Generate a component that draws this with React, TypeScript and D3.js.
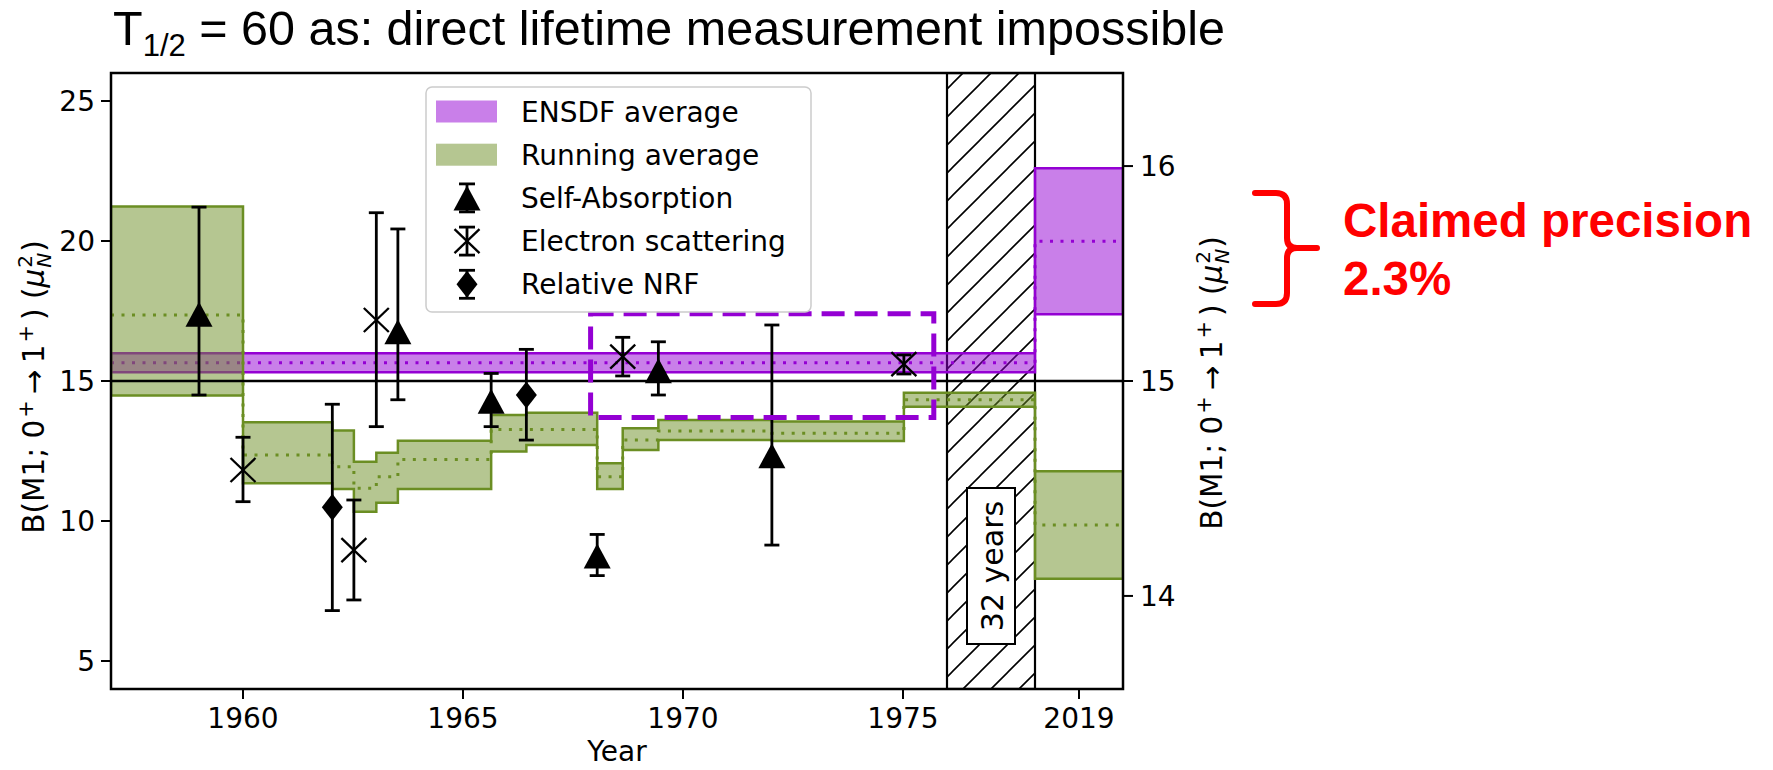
import React from "react";
import * as d3 from "d3";

// Running average of B(M1) — one step per new measurement (lower / central / upper)
const runningYears = [1957, 1960, 1962.03, 1962.52, 1963.03, 1963.52, 1965.64, 1966.44, 1968.05, 1968.63, 1969.44, 1972.02, 1975.02];
const runningLow = [14.48, 11.35, 11.14, 10.33, 10.65, 11.14, 12.48, 12.71, 11.14, 12.54, 12.89, 12.86, 14.08];
const runningMid = [17.36, 12.36, 11.94, 11.17, 11.58, 12.2, 13.27, 13.27, 11.58, 12.89, 13.21, 13.13, 14.33];
const runningHigh = [21.23, 13.53, 13.23, 12.12, 12.44, 12.87, 13.79, 13.87, 12.06, 13.31, 13.61, 13.55, 14.58];

// ENSDF evaluated average
const ensdfMean = 15.65;
const ensdfError = 0.34;

// Self-absorption measurements
const saYears = [1959.0, 1963.52, 1965.64, 1968.05, 1969.44, 1972.02];
const saValues = [17.38, 16.76, 14.28, 8.75, 15.37, 12.33];
const saLow = [14.5, 14.33, 13.37, 8.05, 14.5, 9.14];
const saHigh = [21.21, 20.43, 15.27, 9.52, 16.4, 17.0];

// Electron scattering measurements
const esYears = [1960.0, 1962.52, 1963.03, 1968.63, 1975.02];
const esValues = [11.82, 8.96, 17.18, 15.87, 15.6];
const esLow = [10.69, 7.18, 13.37, 15.18, 15.25];
const esHigh = [12.99, 10.75, 21.01, 16.56, 15.93];

// Relative NRF measurements
const nrfYears = [1962.03, 1966.44];
const nrfValues = [10.49, 14.5];
const nrfLow = [6.8, 12.89];
const nrfHigh = [14.17, 16.13];

// Axes
const yearDomain = [1957, 1980];
const leftDomain = [4, 26];
const rightDomain = [13.567, 16.433];
const yearTicks = [1960, 1965, 1970, 1975];
const leftTicks = [5, 10, 15, 20, 25];
const rightTicks = [14, 15, 16];
const gapYears = [1976, 1978];
const recentSlot = [1978, 1980];
const recentLabel = "2019";
const gapLabel = "32 years";
const referenceLevel = 15;
const highlightYears = [1967.9, 1975.7];
const highlightValues = [13.7, 17.4];

const legendLabels = ["ENSDF average", "Running average", "Self-Absorption", "Electron scattering", "Relative NRF"];

const PURPLE = "#9400d3";
const GREEN = "#6b8e23";
const RED = "#ff0000";
const MPL_FONT = "'DejaVu Sans', sans-serif";
const SLIDE_FONT = "'Liberation Sans', Arial, sans-serif";

const W = 1773;
const H = 770;
const frame = { left: 111, right: 1123, top: 73, bottom: 689 };

type Step = { x: number; lo: number; mid: number; hi: number };

const x = d3.scaleLinear().domain(yearDomain).range([frame.left, frame.right]);
const yL = d3.scaleLinear().domain(leftDomain).range([frame.bottom, frame.top]);
const yR = d3.scaleLinear().domain(rightDomain).range([frame.bottom, frame.top]);

const bandArea = d3
  .area<Step>()
  .x((d) => x(d.x))
  .y0((d) => d.lo)
  .y1((d) => d.hi)
  .curve(d3.curveStepAfter);
const midLine = d3
  .line<Step>()
  .x((d) => x(d.x))
  .y((d) => d.mid)
  .curve(d3.curveStepAfter);

// ENSDF band: main panel on the left scale, recent panel on the magnified right scale
const ensdfSteps: Step[] = [
  { x: yearDomain[0], lo: yL(ensdfMean - ensdfError), mid: yL(ensdfMean), hi: yL(ensdfMean + ensdfError) },
  { x: recentSlot[0], lo: yR(ensdfMean - ensdfError), mid: yR(ensdfMean), hi: yR(ensdfMean + ensdfError) },
  { x: recentSlot[1], lo: yR(ensdfMean - ensdfError), mid: yR(ensdfMean), hi: yR(ensdfMean + ensdfError) },
];

const lastIdx = runningYears.length - 1;
const runningSteps: Step[] = runningYears.map((yr, i) => ({
  x: yr,
  lo: yL(runningLow[i]),
  mid: yL(runningMid[i]),
  hi: yL(runningHigh[i]),
}));
runningSteps.push(
  { x: recentSlot[0], lo: yR(runningLow[lastIdx]), mid: yR(runningMid[lastIdx]), hi: yR(runningHigh[lastIdx]) },
  { x: recentSlot[1], lo: yR(runningLow[lastIdx]), mid: yR(runningMid[lastIdx]), hi: yR(runningHigh[lastIdx]) }
);

const triangle = "M0,-12.5 L13.5,12.5 L-13.5,12.5 Z";
const diamond = "M0,-13.5 L10.5,0 L0,13.5 L-10.5,0 Z";

function Marker({ kind, cx, cy }: { kind: string; cx: number; cy: number }) {
  if (kind === "tri") return <path d={triangle} transform={`translate(${cx},${cy})`} fill="#000" />;
  if (kind === "dia") return <path d={diamond} transform={`translate(${cx},${cy})`} fill="#000" />;
  return (
    <g transform={`translate(${cx},${cy})`} stroke="#000" strokeWidth={2.3}>
      <line x1={-12.5} y1={-12} x2={12.5} y2={12} />
      <line x1={-12.5} y1={12} x2={12.5} y2={-12} />
    </g>
  );
}

function ErrorBar({ cx, top, bottom, cap = 7.5 }: { cx: number; top: number; bottom: number; cap?: number }) {
  return (
    <g stroke="#000" strokeWidth={2.8}>
      <line x1={cx} x2={cx} y1={top} y2={bottom} />
      <line x1={cx - cap} x2={cx + cap} y1={top} y2={top} />
      <line x1={cx - cap} x2={cx + cap} y1={bottom} y2={bottom} />
    </g>
  );
}

function Series({ years, values, low, high, kind }: { years: number[]; values: number[]; low: number[]; high: number[]; kind: string }) {
  return (
    <g>
      {years.map((yr, i) => (
        <g key={i}>
          <ErrorBar cx={x(yr)} top={yL(high[i])} bottom={yL(low[i])} />
          <Marker kind={kind} cx={x(yr)} cy={yL(values[i])} />
        </g>
      ))}
    </g>
  );
}

function AxisLabel({ tx, ty }: { tx: number; ty: number }) {
  return (
    <text transform={`translate(${tx},${ty}) rotate(-90)`} textAnchor="middle" fontFamily={MPL_FONT} fontSize={29.5} fill="#000">
      B(M1; 0
      <tspan fontSize={21} dx={2} dy={-11}>+</tspan>
      <tspan dy={11} dx={6}>→</tspan>
      <tspan dx={6}>1</tspan>
      <tspan fontSize={21} dx={2} dy={-11}>+</tspan>
      <tspan dy={11} dx={5}>) (</tspan>
      <tspan fontStyle="italic">μ</tspan>
      <tspan fontSize={20} dx={1} dy={-12}>2</tspan>
      <tspan fontSize={20} fontStyle="italic" dx={-12.7} dy={19}>N</tspan>
      <tspan dy={-7} dx={1}>)</tspan>
    </text>
  );
}

export default function App() {
  const gapX0 = x(gapYears[0]);
  const gapX1 = x(gapYears[1]);
  const gapMid = (gapX0 + gapX1) / 2;
  const recentMid = x((recentSlot[0] + recentSlot[1]) / 2);

  const legend = { x: 426, y: 87, w: 385, h: 225, row0: 111.5, rowStep: 43.2, iconX: 467, textX: 521 };

  return (
    <div style={{ position: "absolute", left: 0, top: 0 }}>
      <svg width={W} height={H} viewBox={`0 0 ${W} ${H}`} style={{ display: "block", background: "#fff" }}>
        <defs>
          <pattern id="hatch" patternUnits="userSpaceOnUse" width={28} height={28}>
            <path d="M-7,7 L7,-7 M0,28 L28,0 M21,35 L35,21" stroke="#000" strokeWidth={1.6} />
          </pattern>
          <clipPath id="plotClip">
            <rect x={frame.left} y={frame.top} width={frame.right - frame.left} height={frame.bottom - frame.top} />
          </clipPath>
        </defs>

        {/* Title */}
        <text x={113} y={45} fontFamily={SLIDE_FONT} fontSize={48.5} fill="#000">
          T<tspan fontSize={31} dy={11}>1/2</tspan>
          <tspan dy={-11}> = 60 as: direct lifetime measurement impossible</tspan>
        </text>

        <g clipPath="url(#plotClip)">
          {/* Hatched period without measurements */}
          <rect x={gapX0} y={frame.top} width={gapX1 - gapX0} height={frame.bottom - frame.top} fill="url(#hatch)" stroke="#000" strokeWidth={2.2} />

          {/* ENSDF average band */}
          <path d={bandArea(ensdfSteps) ?? ""} fill={PURPLE} fillOpacity={0.5} stroke={PURPLE} strokeWidth={2.5} />
          <path d={midLine(ensdfSteps) ?? ""} fill="none" stroke={PURPLE} strokeWidth={3} strokeDasharray="3 7.5" />

          {/* Running average band */}
          <path d={bandArea(runningSteps) ?? ""} fill={GREEN} fillOpacity={0.5} stroke={GREEN} strokeWidth={2.5} />
          <path d={midLine(runningSteps) ?? ""} fill="none" stroke={GREEN} strokeWidth={3} strokeDasharray="3 7.5" />

          {/* Reference level */}
          <line x1={x(yearDomain[0])} x2={x(yearDomain[1])} y1={yL(referenceLevel)} y2={yL(referenceLevel)} stroke="#000" strokeWidth={2.5} />
        </g>

        {/* Measurements */}
        <Series years={saYears} values={saValues} low={saLow} high={saHigh} kind="tri" />
        <Series years={esYears} values={esValues} low={esLow} high={esHigh} kind="x" />
        <Series years={nrfYears} values={nrfValues} low={nrfLow} high={nrfHigh} kind="dia" />

        {/* Highlighted cluster of recent measurements */}
        <rect
          x={x(highlightYears[0])}
          y={yL(highlightValues[1])}
          width={x(highlightYears[1]) - x(highlightYears[0])}
          height={yL(highlightValues[0]) - yL(highlightValues[1])}
          fill="none"
          stroke={PURPLE}
          strokeWidth={5}
          strokeDasharray="23 10"
        />

        {/* Gap label */}
        <rect x={gapMid - 24} y={488} width={48} height={156} fill="#fff" stroke="#000" strokeWidth={2} />
        <text transform={`translate(${gapMid + 1},566) rotate(-90)`} textAnchor="middle" dominantBaseline="central" fontFamily={MPL_FONT} fontSize={30}>
          {gapLabel}
        </text>

        {/* Legend */}
        <g>
          <rect x={legend.x} y={legend.y} width={legend.w} height={legend.h} rx={6} fill="#fff" fillOpacity={0.8} stroke="#cccccc" strokeWidth={1.5} />
          {legendLabels.map((label, i) => {
            const cy = legend.row0 + i * legend.rowStep;
            let icon: React.ReactNode = null;
            if (i === 0) icon = <rect x={436} y={cy - 11} width={61} height={22} fill={PURPLE} fillOpacity={0.5} />;
            else if (i === 1) icon = <rect x={436} y={cy - 11} width={61} height={22} fill={GREEN} fillOpacity={0.5} />;
            else {
              const kind = i === 2 ? "tri" : i === 3 ? "x" : "dia";
              icon = (
                <g>
                  <ErrorBar cx={legend.iconX} top={cy - 14} bottom={cy + 14} cap={8} />
                  <Marker kind={kind} cx={legend.iconX} cy={cy} />
                </g>
              );
            }
            return (
              <g key={label}>
                {icon}
                <text x={legend.textX} y={cy + 10} fontFamily={MPL_FONT} fontSize={28} fill="#000">
                  {label}
                </text>
              </g>
            );
          })}
        </g>

        {/* Frame */}
        <rect x={frame.left} y={frame.top} width={frame.right - frame.left} height={frame.bottom - frame.top} fill="none" stroke="#000" strokeWidth={2.5} />

        {/* Bottom axis */}
        <g fontFamily={MPL_FONT} fontSize={28} fill="#000">
          {yearTicks.map((t) => (
            <g key={t}>
              <line x1={x(t)} x2={x(t)} y1={frame.bottom} y2={frame.bottom + 10} stroke="#000" strokeWidth={2} />
              <text x={x(t)} y={frame.bottom + 39} textAnchor="middle">
                {t}
              </text>
            </g>
          ))}
          <line x1={recentMid} x2={recentMid} y1={frame.bottom} y2={frame.bottom + 10} stroke="#000" strokeWidth={2} />
          <text x={recentMid} y={frame.bottom + 39} textAnchor="middle">
            {recentLabel}
          </text>
          <text x={(frame.left + frame.right) / 2} y={frame.bottom + 72} textAnchor="middle">
            Year
          </text>
        </g>

        {/* Left axis */}
        <g fontFamily={MPL_FONT} fontSize={28} fill="#000">
          {leftTicks.map((t) => (
            <g key={t}>
              <line x1={frame.left - 10} x2={frame.left} y1={yL(t)} y2={yL(t)} stroke="#000" strokeWidth={2} />
              <text x={frame.left - 16} y={yL(t) + 10} textAnchor="end">
                {t}
              </text>
            </g>
          ))}
        </g>
        <AxisLabel tx={44} ty={387} />

        {/* Right axis (magnified scale for the recent panel) */}
        <g fontFamily={MPL_FONT} fontSize={28} fill="#000">
          {rightTicks.map((t) => (
            <g key={t}>
              <line x1={frame.right} x2={frame.right + 10} y1={yR(t)} y2={yR(t)} stroke="#000" strokeWidth={2} />
              <text x={frame.right + 17} y={yR(t) + 10} textAnchor="start">
                {t}
              </text>
            </g>
          ))}
        </g>
        <AxisLabel tx={1222} ty={383} />

        {/* Precision annotation */}
        <path
          d="M1255,193 L1276,193 Q1287,193 1287,204 L1287,238 Q1287,248 1297,248 L1317,248 M1297,248 Q1287,248 1287,258 L1287,293 Q1287,304 1276,304 L1255,304"
          fill="none"
          stroke={RED}
          strokeWidth={6}
          strokeLinecap="round"
          strokeLinejoin="round"
        />
        <text fontFamily={SLIDE_FONT} fontWeight="bold" fontSize={47.5} fill={RED}>
          <tspan x={1343} y={237}>
            Claimed precision
          </tspan>
          <tspan x={1343} y={295}>
            2.3%
          </tspan>
        </text>
      </svg>
    </div>
  );
}
